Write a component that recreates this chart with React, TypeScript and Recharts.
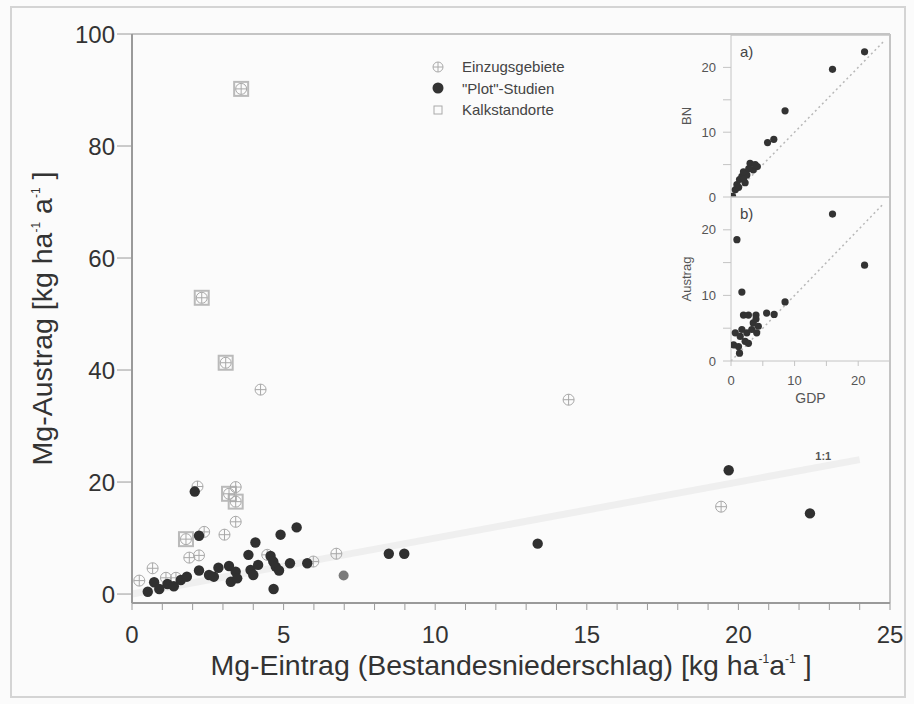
import {
  ScatterChart,
  Scatter,
  XAxis,
  YAxis,
  ReferenceLine,
  ReferenceDot,
  Label,
} from "recharts";

// Mg-Eintrag (x) vs. Mg-Austrag (y), kg ha-1 a-1
const einzugsgebiete = [
  [0.24, 2.4], [0.68, 4.6], [1.12, 2.9], [1.45, 2.9], [1.89, 6.5], [2.21, 6.9],
  [2.16, 19.2], [2.38, 11.1], [3.05, 10.6], [3.42, 19.1], [3.42, 12.9],
  [4.24, 36.5], [4.46, 7.0], [5.98, 5.8], [6.74, 7.2], [14.4, 34.7], [19.43, 15.6],
  [3.6, 90.2], [2.3, 52.9], [3.09, 41.3], [1.78, 9.8], [3.2, 17.9], [3.42, 16.5],
];

const plotStudien = [
  [0.52, 0.4], [0.73, 2.1], [0.9, 0.9], [1.17, 1.8], [1.38, 1.4], [1.61, 2.5],
  [1.81, 3.1], [2.07, 18.3], [2.21, 10.4], [2.21, 4.2], [2.54, 3.4], [2.7, 3.1],
  [2.85, 4.7], [3.2, 5.0], [3.26, 2.2], [3.42, 4.0], [3.47, 2.8], [3.84, 7.0],
  [3.91, 4.3], [4.0, 3.4], [4.07, 9.2], [4.16, 5.2], [4.57, 6.8], [4.66, 5.8],
  [4.74, 4.9], [4.85, 4.2], [4.67, 0.9], [4.9, 10.6], [5.21, 5.5], [5.43, 11.9],
  [5.78, 5.5], [8.47, 7.2], [8.98, 7.2], [13.38, 9.0], [19.68, 22.1], [22.36, 14.4],
];

const plotStudienGrau = [[6.98, 3.3]];

const kalkstandorte = [
  [3.6, 90.2], [2.3, 52.9], [3.09, 41.3], [1.78, 9.8], [3.2, 17.9], [3.42, 16.5],
];

const oneToOneMain = [[0, 0], [24, 24]];
const oneToOneLabel = [22.8, 24.6];

// Inset a) BN vs GDP, b) Austrag vs GDP
const insetA = [
  [21.0, 22.4], [15.96, 19.7], [8.5, 13.3], [6.73, 8.9], [5.75, 8.4], [0.25, 0.1],
  [0.67, 1.1], [0.93, 1.9], [1.34, 2.7], [1.71, 3.2], [2.22, 2.2], [2.49, 3.4],
  [1.96, 3.9], [3.0, 5.2], [3.5, 4.2], [4.14, 4.7], [2.8, 4.4], [3.8, 5.0],
  [1.2, 1.5], [2.0, 2.8],
];

const insetB = [
  [15.96, 22.4], [0.93, 18.5], [1.71, 10.5], [21.0, 14.6], [8.5, 9.0], [5.6, 7.3],
  [6.78, 7.1], [1.96, 7.0], [2.74, 7.0], [3.93, 7.0], [0.67, 4.3], [1.45, 3.75],
  [1.18, 2.2], [0.4, 2.45], [1.34, 1.2], [2.22, 3.0], [2.49, 4.3], [2.74, 2.7],
  [3.27, 4.8], [3.5, 5.8], [4.04, 4.3], [4.3, 5.3], [3.93, 6.4], [1.71, 4.8],
];

const oneToOneInset = [[0, 0], [24, 24]];

const xTicksMain = [0, 1, 2, 3, 4, 5, 6, 7, 8, 9, 10, 11, 12, 13, 14, 15, 16, 17, 18, 19, 20, 21, 22, 23, 24, 25];
const xLabelsMain = [0, 5, 10, 15, 20, 25];
const yTicksMain = [0, 20, 40, 60, 80, 100];
const yMinorMain = [5, 10, 15, 25, 30, 35, 45, 50, 55, 65, 70, 75, 85, 90, 95];
const insetTicks = [0, 5, 10, 15, 20];
const insetLabels = [0, 10, 20];

const legendItems = ["Einzugsgebiete", '"Plot"-Studien', "Kalkstandorte"];

type Pt = { x: number; y: number };
const pts = (rows: number[][]): Pt[] => rows.map(([x, y]) => ({ x, y }));

const FONT = "'Liberation Sans', Arial, sans-serif";
const AXIS = "#9a9a9a";
const FRAME = "#c4c4c4";

const CrossCircle = ({ cx, cy, r = 5.5, stroke = "#a8a8a8" }: any) => (
  <g>
    <circle cx={cx} cy={cy} r={r} fill="none" stroke={stroke} strokeWidth={1} />
    <line x1={cx - r} y1={cy} x2={cx + r} y2={cy} stroke={stroke} strokeWidth={1} />
    <line x1={cx} y1={cy - r} x2={cx} y2={cy + r} stroke={stroke} strokeWidth={1} />
  </g>
);

const Square = ({ cx, cy, s = 14 }: any) => (
  <rect x={cx - s / 2} y={cy - s / 2} width={s} height={s} fill="none" stroke="#bababa" strokeWidth={2} />
);

const dotShape = (r: number, fill: string) => (p: any) => (
  <circle cx={p.cx} cy={p.cy} r={r} fill={fill} />
);

function YTitle({ viewBox }: any) {
  const x = viewBox.x - 20;
  const y = viewBox.y + viewBox.height / 2;
  return (
    <text x={x} y={y} transform={`rotate(-90 ${x} ${y})`} textAnchor="middle" fontSize={28.5} fill="#333" fontFamily={FONT}>
      Mg-Austrag [kg ha
      <tspan dy={-12} fontSize={12}>-1</tspan>
      <tspan dy={12}> a</tspan>
      <tspan dy={-12} fontSize={12}>-1</tspan>
      <tspan dy={12}> ]</tspan>
    </text>
  );
}

function XTitle({ viewBox }: any) {
  const x = viewBox.x + viewBox.width / 2;
  const y = 675;
  return (
    <text x={x} y={y} textAnchor="middle" fontSize={28.5} fill="#333" fontFamily={FONT}>
      Mg-Eintrag (Bestandesniederschlag) [kg ha
      <tspan dy={-12} fontSize={12}>-1</tspan>
      <tspan dy={12}>a</tspan>
      <tspan dy={-12} fontSize={12}>-1</tspan>
      <tspan dy={12}> ]</tspan>
    </text>
  );
}

const insetTitle = (text: string, rotate: boolean) => ({ viewBox }: any) => {
  if (rotate) {
    const x = viewBox.x - 10;
    const y = viewBox.y + viewBox.height / 2;
    return (
      <text x={x} y={y} transform={`rotate(-90 ${x} ${y})`} textAnchor="middle" fontSize={13} fill="#555" fontFamily={FONT}>
        {text}
      </text>
    );
  }
  return (
    <text x={viewBox.x + viewBox.width / 2} y={viewBox.y + 42} textAnchor="middle" fontSize={14} fill="#555" fontFamily={FONT}>
      {text}
    </text>
  );
};

function Legend() {
  return (
    <div style={{ position: "absolute", left: 428, top: 56, fontFamily: FONT, fontSize: 15, color: "#444" }}>
      {legendItems.map((name, i) => (
        <div key={name} style={{ display: "flex", alignItems: "center", height: 21.5 }}>
          <svg width={20} height={20} style={{ marginRight: 14 }}>
            {i === 0 && <CrossCircle cx={10} cy={10} r={5} stroke="#aaa" />}
            {i === 1 && <circle cx={10} cy={10} r={5.5} fill="#333" />}
            {i === 2 && <rect x={6} y={6} width={8} height={8} fill="none" stroke="#aaa" strokeWidth={1} />}
          </svg>
          <span>{name}</span>
        </div>
      ))}
    </div>
  );
}

function Inset({ data, top, height, bottom, label, tag, showX }: any) {
  return (
    <div style={{ position: "absolute", left: 680, top, width: 214, height }}>
      <ScatterChart width={214} height={height} margin={{ top: 5, right: 4, bottom, left: 21 }}>
        <XAxis
          type="number"
          dataKey="x"
          domain={[0, 25]}
          allowDataOverflow
          ticks={insetTicks}
          interval={0}
          height={showX ? 30 : 0}
          tick={showX ? { fill: "#555", fontSize: 13, fontFamily: FONT } : false}
          tickFormatter={(v: number) => (insetLabels.includes(v) ? String(v) : "")}
          tickSize={5}
          tickMargin={10}
          stroke={FRAME}
          tickLine={{ stroke: FRAME }}
        >
          {showX && <Label content={insetTitle("GDP", false)} />}
        </XAxis>
        <YAxis
          type="number"
          dataKey="y"
          domain={[0, 25]}
          allowDataOverflow
          ticks={insetTicks}
          interval={0}
          width={30}
          tick={{ fill: "#555", fontSize: 13, fontFamily: FONT }}
          tickFormatter={(v: number) => (insetLabels.includes(v) ? String(v) : "")}
          tickSize={8}
          tickMargin={7}
          stroke={FRAME}
          tickLine={{ stroke: FRAME }}
        >
          <Label content={insetTitle(label, true)} />
        </YAxis>
        <ReferenceLine y={25} stroke={FRAME} strokeWidth={1.5} />
        <ReferenceLine x={25} stroke={FRAME} strokeWidth={1.5} />
        <ReferenceLine
          segment={pts(oneToOneInset)}
          stroke="#b8b8b8"
          strokeWidth={1.5}
          strokeDasharray="2 3"
        />
        <Scatter data={pts(data)} shape={dotShape(3.6, "#333")} isAnimationActive={false} />
      </ScatterChart>
      <span style={{ position: "absolute", left: 60, top: 13, fontFamily: FONT, fontSize: 15, color: "#444" }}>
        {tag}
      </span>
    </div>
  );
}

export default function App() {
  return (
    <div style={{ position: "absolute", left: 0, top: 0, width: 914, height: 704, background: "#fbfbfb", overflow: "hidden" }}>
      <div style={{ position: "absolute", left: 10, top: 6, width: 896, height: 692, border: "2px solid #d4d4d4", boxSizing: "border-box" }} />
      <div style={{ position: "absolute", left: 0, top: 0 }}>
        <ScatterChart width={914} height={704} margin={{ top: 34, right: 24, bottom: 41, left: 72 }}>
          <XAxis
            type="number"
            dataKey="x"
            domain={[0, 25]}
            allowDataOverflow
            ticks={xTicksMain}
            interval={0}
            height={60}
            tick={{ fill: "#333", fontSize: 24, fontFamily: FONT }}
            tickFormatter={(v: number) => (xLabelsMain.includes(v) ? String(v) : "")}
            tickSize={7}
            tickMargin={16}
            stroke={AXIS}
            strokeWidth={2}
            tickLine={{ stroke: AXIS, strokeWidth: 1 }}
          >
            <Label content={XTitle} />
          </XAxis>
          <YAxis
            type="number"
            dataKey="y"
            domain={[-1.6, 100]}
            allowDataOverflow
            ticks={yTicksMain}
            interval={0}
            width={60}
            tick={{ fill: "#333", fontSize: 24, fontFamily: FONT }}
            tickSize={15}
            tickMargin={2}
            stroke={AXIS}
            strokeWidth={2}
            tickLine={{ stroke: AXIS, strokeWidth: 1 }}
          >
            <Label content={YTitle} />
          </YAxis>
          <YAxis
            yAxisId="minor"
            type="number"
            domain={[-1.6, 100]}
            allowDataOverflow
            ticks={yMinorMain}
            interval={0}
            mirror
            axisLine={false}
            tick={false}
            tickSize={5}
            tickLine={{ stroke: "#b0b0b0", strokeWidth: 1 }}
          />
          <ReferenceLine y={100} stroke={FRAME} strokeWidth={2} />
          <ReferenceLine x={25} stroke={FRAME} strokeWidth={2} />
          <ReferenceLine segment={pts(oneToOneMain)} stroke="#efefef" strokeWidth={7} />
          <ReferenceDot x={oneToOneLabel[0]} y={oneToOneLabel[1]} r={0} fill="none" stroke="none">
            <Label value="1:1" position="center" fontSize={11} fontWeight="bold" fill="#555" fontFamily={FONT} />
          </ReferenceDot>
          <Scatter data={pts(kalkstandorte)} shape={(p: any) => <Square cx={p.cx} cy={p.cy} />} isAnimationActive={false} />
          <Scatter data={pts(einzugsgebiete)} shape={(p: any) => <CrossCircle cx={p.cx} cy={p.cy} />} isAnimationActive={false} />
          <Scatter data={pts(plotStudienGrau)} shape={dotShape(5, "#7a7a7a")} isAnimationActive={false} />
          <Scatter data={pts(plotStudien)} shape={dotShape(5.2, "#303030")} isAnimationActive={false} />
        </ScatterChart>
      </div>
      <Legend />
      <Inset data={insetA} top={30} height={182} bottom={15} label="BN" tag="a)" showX={false} />
      <Inset data={insetB} top={192} height={220} bottom={21} label="Austrag" tag="b)" showX />
    </div>
  );
}
